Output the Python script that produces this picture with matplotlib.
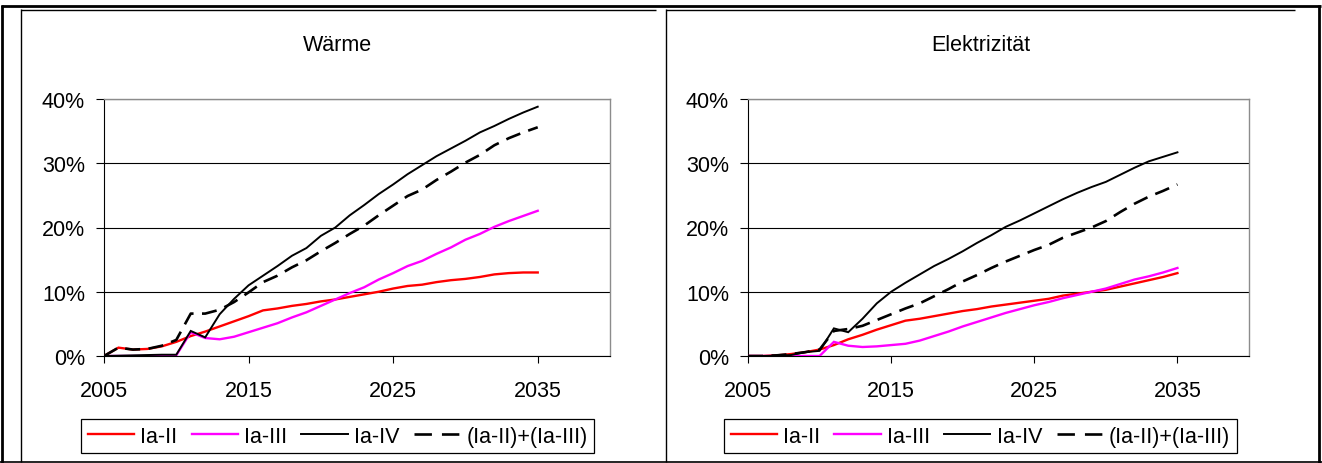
import matplotlib
matplotlib.use("Agg")
import matplotlib.pyplot as plt
from matplotlib.lines import Line2D
from matplotlib.ticker import FixedLocator, PercentFormatter

plt.rcParams['font.family'] = ['Liberation Sans', 'DejaVu Sans']

years = list(range(2005, 2036))

# Wärme (heat), shares in percent
waerme_ia_ii = [0.0, 1.3, 1.0, 1.1, 1.5, 2.2, 3.1, 3.8, 4.6, 5.4, 6.2, 7.1, 7.4, 7.8, 8.1,
                8.5, 8.8, 9.2, 9.6, 10.0, 10.5, 10.9, 11.1, 11.5, 11.8, 12.0, 12.3, 12.7,
                12.9, 13.0, 13.0]
waerme_ia_iii = [0.0, 0.0, 0.0, 0.0, 0.0, 0.1, 3.7, 2.8, 2.6, 3.0, 3.7, 4.4, 5.1, 6.0, 6.8,
                 7.8, 8.8, 9.8, 10.7, 11.9, 12.9, 14.0, 14.8, 15.9, 16.9, 18.1, 19.0, 20.1,
                 21.0, 21.8, 22.6]
waerme_ia_iv = [0.0, 0.05, 0.1, 0.15, 0.2, 0.2, 3.9, 2.9, 6.5, 8.9, 11.0, 12.5, 14.0, 15.6,
                16.8, 18.7, 20.0, 21.9, 23.5, 25.2, 26.7, 28.3, 29.7, 31.1, 32.3, 33.5, 34.8,
                35.8, 36.9, 37.9, 38.8]
waerme_sum = [0.0, 1.3, 1.0, 1.1, 1.6, 2.5, 6.6, 6.6, 7.2, 8.4, 9.9, 11.5, 12.5, 13.8, 14.9,
              16.3, 17.6, 19.0, 20.3, 21.9, 23.4, 24.9, 25.9, 27.4, 28.7, 30.1, 31.3, 32.8,
              33.9, 34.8, 35.6]

# Elektrizität (electricity), shares in percent
elek_ia_ii = [0.0, 0.0, 0.1, 0.3, 0.6, 1.0, 1.7, 2.6, 3.3, 4.1, 4.8, 5.5, 5.8, 6.2, 6.6,
              7.0, 7.3, 7.7, 8.0, 8.3, 8.6, 8.9, 9.4, 9.7, 10.0, 10.3, 10.8, 11.3, 11.8,
              12.3, 12.9]
elek_ia_iii = [0.0, 0.0, 0.0, 0.0, 0.0, 0.0, 2.2, 1.6, 1.4, 1.5, 1.7, 1.9, 2.4, 3.1, 3.8,
               4.6, 5.3, 6.0, 6.7, 7.3, 7.9, 8.4, 9.0, 9.5, 10.0, 10.5, 11.2, 11.9, 12.4,
               13.0, 13.7]
elek_ia_iv = [0.0, 0.0, 0.05, 0.15, 0.6, 0.8, 4.3, 3.7, 5.8, 8.2, 10.0, 11.4, 12.7, 14.0,
              15.1, 16.3, 17.6, 18.8, 20.1, 21.1, 22.2, 23.3, 24.4, 25.4, 26.3, 27.1, 28.2,
              29.3, 30.3, 31.0, 31.7]
elek_sum = [0.0, 0.0, 0.1, 0.3, 0.6, 1.0, 3.9, 4.2, 4.7, 5.6, 6.5, 7.4, 8.2, 9.3, 10.4,
            11.6, 12.6, 13.7, 14.7, 15.6, 16.5, 17.3, 18.4, 19.2, 20.0, 21.0, 22.4, 23.7,
            24.8, 25.7, 26.7]

series_labels = ['Ia-II', 'Ia-III', 'Ia-IV', '(Ia-II)+(Ia-III)']
panel_titles = ['Wärme', 'Elektrizität']
x_ticks = [2005, 2015, 2025, 2035]
y_ticks = [0, 10, 20, 30, 40]

W, H = 1322, 464
fig = plt.figure(figsize=(W / 100, H / 100), dpi=100)
FS = 15.5


def fx(px):
    return px / W


def fy(py):
    return 1 - py / H


def hline(x0, x1, y, lw, color='black'):
    fig.add_artist(Line2D([fx(x0), fx(x1)], [fy(y), fy(y)], transform=fig.transFigure,
                          color=color, lw=lw, solid_capstyle='butt'))


def vline(x, y0, y1, lw, color='black'):
    fig.add_artist(Line2D([fx(x), fx(x)], [fy(y0), fy(y1)], transform=fig.transFigure,
                          color=color, lw=lw, solid_capstyle='butt'))


# outer border and panel frames
hline(0.5, 1321, 6.5, 2.0)
vline(2.0, 5.5, 464, 2.0)
vline(1319.3, 5.5, 464, 2.0)
hline(0, 1322, 462.8, 1.2)
hline(20.5, 656, 10.7, 1.0)
vline(20.5, 10.2, 463, 1.0)
hline(665.7, 1295, 10.7, 1.0)
vline(665.7, 10.2, 463, 1.0)

panels = [
    dict(left=104, right=610, title_x=337.6,
         data=[waerme_ia_ii, waerme_ia_iii, waerme_ia_iv, waerme_sum]),
    dict(left=748, right=1249, title_x=980.5,
         data=[elek_ia_ii, elek_ia_iii, elek_ia_iv, elek_sum]),
]

styles = [
    dict(color='#ff0000', lw=1.7, ls='-'),
    dict(color='#ff00ff', lw=1.7, ls='-'),
    dict(color='black', lw=1.4, ls='-'),
    dict(color='black', lw=1.9, ls=(0, (5.7, 3.2))),
]

top_px, bottom_px = 100, 357
for p, title in zip(panels, panel_titles):
    ax = fig.add_axes([fx(p['left']), fy(bottom_px), (p['right'] - p['left']) / W,
                       (bottom_px - top_px) / H])
    handles = []
    for vals, st, lab in zip(p['data'], styles, series_labels):
        h, = ax.plot(years, vals, color=st['color'], lw=st['lw'], linestyle=st['ls'],
                     label=lab, zorder=3, solid_joinstyle='miter')
        handles.append(h)
    ax.set_xlim(2005, 2040)
    ax.set_ylim(0, 40)
    ax.xaxis.set_major_locator(FixedLocator(x_ticks))
    ax.yaxis.set_major_locator(FixedLocator(y_ticks))
    ax.yaxis.set_major_formatter(PercentFormatter(decimals=0))
    ax.set_axisbelow(True)
    ax.grid(axis='y', color='black', lw=0.8)
    ax.grid(axis='x', visible=False)
    for side in ('top', 'right'):
        ax.spines[side].set_color('#8c8c8c')
        ax.spines[side].set_linewidth(1.0)
    for side in ('left', 'bottom'):
        ax.spines[side].set_color('black')
        ax.spines[side].set_linewidth(0.8)
    ax.tick_params(axis='y', direction='out', length=5.8, width=0.8, pad=7.9,
                   labelsize=FS, colors='black')
    ax.tick_params(axis='x', direction='out', length=5.0, width=0.8, pad=12.5,
                   labelsize=FS, colors='black')
    fig.text(fx(p['title_x']), fy(51), title, ha='center', va='baseline', fontsize=FS)
    leg = fig.legend(handles=handles, loc='center', ncol=4,
                     bbox_to_anchor=(fx(p['title_x']), fy(437.3)),
                     bbox_transform=fig.transFigure, fontsize=FS, frameon=True,
                     fancybox=False, shadow=False, framealpha=1, edgecolor='black',
                     handlelength=2.14, handletextpad=0.3, columnspacing=0.66,
                     borderpad=0.3, borderaxespad=0)
    leg.get_frame().set_linewidth(0.9)
    # two full dashes in the legend sample of the dashed series
    leg.get_lines()[3].set_linestyle((0, (6.6, 3.8)))

fig.savefig('out.png', dpi=100)
